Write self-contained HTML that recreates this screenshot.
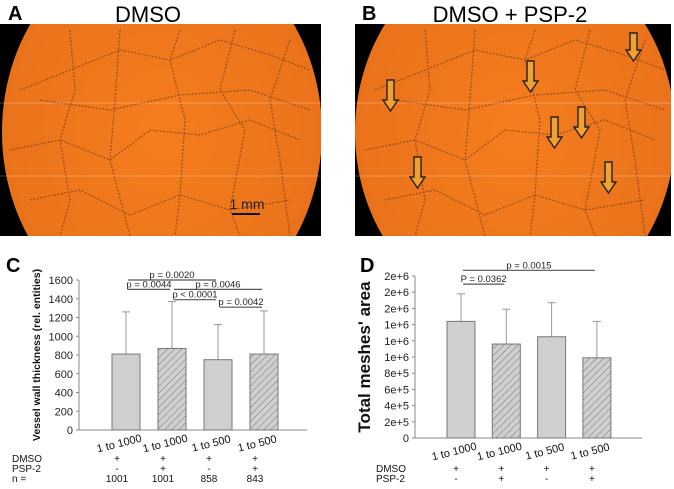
<!DOCTYPE html>
<html><head><meta charset="utf-8">
<style>
html,body{margin:0;padding:0;background:#fff;}
body{width:674px;height:484px;overflow:hidden;font-family:"Liberation Sans",Arial,sans-serif;}
svg text{font-family:"Liberation Sans",Arial,sans-serif;}
</style></head>
<body>
<svg width="674" height="484" viewBox="0 0 674 484">
<defs>
  <pattern id="hatch" width="5" height="5" patternUnits="userSpaceOnUse" patternTransform="rotate(45)">
    <rect width="5" height="5" fill="#cfcfcf"/>
    <line x1="0" y1="0" x2="0" y2="5" stroke="#777" stroke-width="1"/>
  </pattern>
  <clipPath id="clipA"><rect x="0" y="24" width="321" height="212"/></clipPath>
  <clipPath id="clipB"><rect x="355" y="24" width="316" height="212"/></clipPath>
  <radialGradient id="og" cx="50%" cy="50%" r="60%">
    <stop offset="0" stop-color="#f47d1e"/><stop offset="1" stop-color="#e8701a"/>
  </radialGradient>
</defs>

<!-- Panel A -->
<text x="8" y="20" font-size="20" font-weight="bold">A</text>
<text x="148" y="22" font-size="22" text-anchor="middle">DMSO</text>
<g clip-path="url(#clipA)">
  <rect x="0" y="24" width="321" height="212" fill="#000"/>
  <ellipse cx="162" cy="132" rx="160" ry="190" fill="url(#og)"/>
  <g id="netA" fill="none" stroke="#8a4a22" stroke-width="1.3" stroke-dasharray="2 1.5" opacity="0.8">
    <path d="M20 90 L70 70 L120 50 L170 60 L220 40 L270 55 L310 70"/>
    <path d="M10 150 L60 140 L110 160 L150 130 L200 135 L250 120 L300 140"/>
    <path d="M30 200 L80 190 L130 215 L180 195 L230 210 L290 200"/>
    <path d="M70 30 L75 90 L60 140 L70 200 L60 236"/>
    <path d="M120 30 L115 100 L110 160 L130 236"/>
    <path d="M180 30 L170 60 L185 120 L180 195 L175 236"/>
    <path d="M235 30 L220 90 L245 130 L230 210 L240 236"/>
    <path d="M290 40 L270 100 L280 160 L290 236"/>
    <path d="M40 100 L110 110 L180 95 L250 90 L310 110"/>
  </g>
  <line x1="0" y1="103" x2="321" y2="103" stroke="#fff" stroke-opacity="0.25"/>
  <line x1="0" y1="176" x2="321" y2="176" stroke="#fff" stroke-opacity="0.25"/>
  <text x="247" y="209" font-size="14" text-anchor="middle" fill="#222">1 mm</text>
  <line x1="232" y1="214" x2="260" y2="214" stroke="#111" stroke-width="2"/>
</g>

<!-- Panel B -->
<text x="362" y="20" font-size="20" font-weight="bold">B</text>
<text x="510" y="22" font-size="22" text-anchor="middle">DMSO + PSP-2</text>
<g clip-path="url(#clipB)">
  <rect x="355" y="24" width="316" height="212" fill="#000"/>
  <ellipse cx="515" cy="132" rx="160" ry="185" fill="url(#og)"/>
  <use href="#netA" transform="translate(355 0)"/>
  <line x1="355" y1="103" x2="671" y2="103" stroke="#fff" stroke-opacity="0.25"/>
  <line x1="355" y1="176" x2="671" y2="176" stroke="#fff" stroke-opacity="0.25"/>
  <g fill="#f2a030" stroke="#222" stroke-width="1.4">
    <path d="M387 80 h7 v20 h4 l-7.5 11 l-7.5 -11 h4z"/>
    <path d="M527 61 h7 v20 h4 l-7.5 11 l-7.5 -11 h4z"/>
    <path d="M551 117 h7 v20 h4 l-7.5 11 l-7.5 -11 h4z"/>
    <path d="M578 107 h7 v20 h4 l-7.5 11 l-7.5 -11 h4z"/>
    <path d="M414 157 h7 v20 h4 l-7.5 11 l-7.5 -11 h4z"/>
    <path d="M605 162 h7 v20 h4 l-7.5 11 l-7.5 -11 h4z"/>
    <path d="M630 33 h7 v17 h4 l-7.5 11 l-7.5 -11 h4z"/>
  </g>
</g>

<!-- Panel C -->
<text x="6" y="272" font-size="20" font-weight="bold">C</text>
<g id="chartC"></g>
<!-- Panel D -->
<text x="360" y="272" font-size="20" font-weight="bold">D</text>
<g id="chartD"></g>
</svg>

<script>
const NS = "http://www.w3.org/2000/svg";
const categories = ["1 to 1000", "1 to 1000", "1 to 500", "1 to 500"];
const hatched = [false, true, false, true];
const dmsoRow = ["+", "+", "+", "+"];
const pspRow = ["-", "+", "-", "+"];
const nRow = ["1001", "1001", "858", "843"];

const cValues = [810, 870, 750, 810];
const cErrors = [1260, 1370, 1125, 1270];
const cTicks = [0, 200, 400, 600, 800, 1000, 1200, 1400, 1600];
const cBrackets = [["p = 0.0020", 0, 2, 1600], ["p = 0.0044", 0, 1, 1500], ["p = 0.0046", 1, 3, 1500], ["p < 0.0001", 1, 2, 1390], ["p = 0.0042", 2, 3, 1310]];

const dValues = [1.44e6, 1.16e6, 1.25e6, 0.99e6];
const dErrors = [1.78e6, 1.59e6, 1.67e6, 1.44e6];
const dTicks = [0, 2e5, 4e5, 6e5, 8e5, 1e6, 1.2e6, 1.4e6, 1.6e6, 1.8e6, 2e6];
const dTickLabels = ["0", "2e+5", "4e+5", "6e+5", "8e+5", "1e+6", "1e+6", "1e+6", "2e+6", "2e+6", "2e+6"];
const dBrackets = [["p = 0.0015", 0, 3, 2.07e6], ["P = 0.0362", 0, 1, 1.9e6]];

function mk(parent, tag, attrs, text) {
  const e = document.createElementNS(NS, tag);
  for (const k in attrs) e.setAttribute(k, attrs[k]);
  if (text !== undefined) e.textContent = text;
  parent.appendChild(e);
  return e;
}

function drawChart(g, cfg) {
  const y = v => cfg.y0 - (v - 0) / cfg.max * (cfg.y0 - cfg.yTop);
  const xc = i => cfg.barX0 + i * cfg.step + cfg.barW / 2;
  // y axis
  let ax = mk(g, "line", {x1: cfg.axX, y1: cfg.yTop, x2: cfg.axX, y2: cfg.y0, stroke: "#888"});
  
  
  let bx = mk(g, "line", {x1: cfg.axX, y1: cfg.y0, x2: cfg.axEnd, y2: cfg.y0, stroke: "#888"});
  
  
  cfg.ticks.forEach((t, i) => {
    const tk = mk(g, "line", {x1: cfg.axX - 3, y1: y(t), x2: cfg.axX, y2: y(t), stroke: "#888"});
    
    
    const tl = mk(g, "text", {x: cfg.axX - 6, y: y(t) + 4, "font-size": 11, "text-anchor": "end", fill: "#222"}, cfg.tickLabels[i]);
    
    
  });
  const yt = mk(g, "text", {x: 0, y: 0, "font-size": cfg.titleSize, "font-weight": "bold", "text-anchor": "middle", fill: "#111",
    transform: `translate(${cfg.titleX},${(cfg.y0 + cfg.yTop) / 2}) rotate(-90)`}, cfg.title);
  
  
  cfg.values.forEach((v, i) => {
    const x = cfg.barX0 + i * cfg.step;
    const er = mk(g, "line", {x1: xc(i), y1: y(v), x2: xc(i), y2: y(cfg.errors[i]), stroke: "#999"});
    
    
    const ec = mk(g, "line", {x1: xc(i) - 4, y1: y(cfg.errors[i]), x2: xc(i) + 4, y2: y(cfg.errors[i]), stroke: "#999"});
    
    
    const b = mk(g, "rect", {x: x, y: y(v), width: cfg.barW, height: cfg.y0 - y(v), fill: hatched[i] ? "url(#hatch)" : "#cfcfcf", stroke: "#777"});
    
    
    const cl = mk(g, "text", {x: 0, y: 0, "font-size": 11, "text-anchor": "middle", fill: "#111",
      transform: `translate(${xc(i) - 6},${cfg.y0 + 17}) rotate(-14)`}, categories[i]);
    
    
  });
  cfg.brackets.forEach(br => {
    const yy = y(br[3]);
    const l = mk(g, "line", {x1: xc(br[1]) + 2, y1: yy, x2: xc(br[2]) - 2, y2: yy, stroke: "#555", "stroke-width": 1.2});
    
    
    const t = mk(g, "text", {x: (xc(br[1]) + xc(br[2])) / 2, y: yy - 2, "font-size": 9.5, "text-anchor": "middle", fill: "#222"}, br[0]);
    
    
  });
  cfg.rows.forEach((row, r) => {
    const rl = mk(g, "text", {x: cfg.rowLabelX, y: cfg.rowY[r], "font-size": 10, fill: "#111"}, row[0]);
    
    
    row[1].forEach((s, i) => {
      const c = mk(g, "text", {x: xc(i) + cfg.colShift, y: cfg.rowY[r], "font-size": 10, "text-anchor": "middle", fill: "#111"}, s);
      
      
    });
  });
}

drawChart(document.getElementById("chartC"), {
  y0: 430, yTop: 280, max: 1600, axX: 79, axEnd: 307, barX0: 112, step: 46, barW: 28,
  ticks: cTicks, tickLabels: cTicks.map(String), values: cValues, errors: cErrors, brackets: cBrackets,
  title: "Vessel wall thickness (rel. entities)", titleSize: 10.5, titleX: 40,
  rows: [["DMSO", dmsoRow], ["PSP-2", pspRow], ["n =", nRow]], rowY: [462, 472, 482], rowLabelX: 12, colShift: -9
});
drawChart(document.getElementById("chartD"), {
  y0: 438, yTop: 276, max: 2e6, axX: 415, axEnd: 642, barX0: 447, step: 45.3, barW: 28,
  ticks: dTicks, tickLabels: dTickLabels, values: dValues, errors: dErrors, brackets: dBrackets,
  title: "Total meshes' area", titleSize: 17, titleX: 370,
  rows: [["DMSO", dmsoRow], ["PSP-2", pspRow]], rowY: [472, 482], rowLabelX: 376, colShift: -5
});
</script>
</body></html>
